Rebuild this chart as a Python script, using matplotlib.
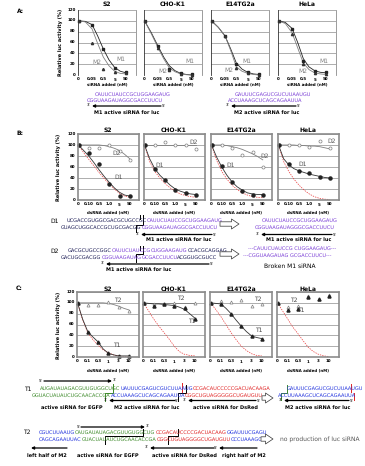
import matplotlib.pyplot as plt

plt.rcParams['text.hinting'] = 'no_hinting'
plt.rcParams['text.hinting_factor'] = 1

# figure size in pixels
W, H = 365, 466

cells = ['S2', 'CHO-K1', 'E14TG2a', 'HeLa']
yticks = [0, 20, 40, 60, 80, 100, 120]

# panel A: siRNA dose response (M1 / M2)
sirna_ticks = ['0', '0.05', '0.5', '5', '50']
sirna_pos = [0, 1.2, 2.2, 3.2, 4.2]
a_curve_pos = [0, 0.6, 1.2, 1.7, 2.2, 2.7, 3.2, 3.7, 4.2]
a_m1_pts = [[100, 92, 48, 13, 5], [100, 53, 12, 3, 1], [100, 72, 20, 5, 1], [100, 85, 25, 7, 5]]
a_m2_pts = [[100, 60, 12, 5, 3], [100, 50, 10, 2, 0], [100, 72, 13, 3, 0], [100, 75, 21, 4, 1]]
a_m1_curve = [[100, 99, 93, 72, 48, 28, 14, 7, 4],
              [100, 78, 53, 33, 17, 8, 3, 1, 0],
              [100, 88, 72, 48, 22, 11, 5, 2, 1],
              [100, 97, 86, 60, 30, 15, 8, 5, 4]]
a_m2_curve = [[100, 98, 85, 58, 33, 17, 7, 3, 2],
              [100, 76, 50, 30, 13, 6, 2, 0.5, 0],
              [100, 88, 72, 45, 15, 7, 3, 1, 0],
              [100, 95, 78, 50, 22, 10, 4, 2, 1]]
a_m1_lab = [(3.4, 28), (3.6, 25), (2.7, 25), (3.6, 25)]
a_m2_lab = [(2.0, 24), (2.0, 6), (1.9, 8), (2.6, 7)]

# panel B: dsRNA D1 / D2
b_ticks = ['0', '0.10', '0.5', '1.0', '5', '50']
c_ticks = ['0', '0.1', '0.3', '1', '3', '10']
pts_pos = [0, 1, 2, 3, 4, 5]
curve_pos = [0, 0.5, 1, 1.5, 2, 2.5, 3, 3.5, 4, 4.5, 5]
b_d1_pts = [[100, 86, 66, 30, 8, 8], [100, 57, 36, 19, 12, 10],
            [100, 62, 32, 17, 10, 10], [100, 65, 53, 49, 42, 40]]
b_d2_pts = [[100, 95, 95, 100, 90, 72], [100, 100, 105, 100, 100, 93],
            [100, 100, 95, 82, 87, 60], [100, 100, 100, 97, 107, 95]]
b_d1_curve = [[100, 90, 80, 68, 55, 43, 32, 22, 14, 9, 7],
              [100, 75, 57, 45, 36, 27, 20, 16, 13, 11, 10],
              [100, 78, 60, 45, 33, 24, 18, 13, 11, 10, 10],
              [100, 75, 64, 57, 53, 50, 47, 45, 43, 41, 40]]
b_d2_curve = [[100, 100, 100, 100, 100, 99, 97, 94, 90, 83, 75],
              [100, 100, 100, 100, 100, 100, 100, 100, 100, 100, 100],
              [100, 100, 100, 99, 97, 95, 92, 88, 84, 79, 73],
              [100, 100, 100, 100, 99, 99, 98, 98, 97, 95, 93]]
b_red = [[100, 86, 74, 62, 50, 39, 29, 20, 12, 7, 5],
         [100, 70, 52, 40, 30, 22, 16, 11, 8, 6, 5],
         [100, 72, 52, 38, 27, 19, 13, 9, 6, 5, 4],
         [100, 70, 52, 38, 27, 18, 11, 6, 3, 1.5, 1]]
b_d1_lab = [(3.5, 42), (1.1, 63), (1.5, 63), (1.9, 65)]
b_d2_lab = [(3.3, 85), (4.4, 105), (4.8, 80), (4.8, 106)]

# panel C: dsRNA T1 / T2
c_t1_pts = [[100, 47, 28, 7, 2, 2], [100, 95, 97, 95, 90, 70],
            [100, 98, 80, 57, 39, 34], [100, 87, 88, 110, 107, 113]]
c_t2_pts = [[100, 96, 96, 102, 92, 85], [100, 97, 97, 100, 92, 100],
            [100, 103, 102, 105, 95, 98], [100, 92, 95, 113, 108, 115]]
c_t1_curve = [[100, 70, 47, 37, 28, 15, 7, 4, 2, 2, 2],
              [100, 99, 98, 98, 97, 96, 95, 92, 88, 80, 72],
              [100, 99, 98, 90, 80, 68, 57, 47, 39, 36, 34],
              None]
c_t2_curve = [[100, 100, 100, 100, 100, 100, 99, 97, 94, 90, 87],
              [100, 100, 100, 100, 100, 100, 100, 100, 100, 100, 100],
              None, None]
c_red = [[100, 68, 45, 32, 22, 13, 8, 4, 2, 1, 1],
         [100, 85, 70, 57, 45, 33, 20, 10, 5, 3, 2],
         [100, 88, 75, 60, 45, 32, 20, 12, 6, 3, 2],
         [100, 85, 70, 55, 43, 30, 18, 10, 5, 2, 1]]
c_t1_lab = [(3.5, 22), (4.3, 65), (4.3, 50), (1.9, 87)]
c_t2_lab = [(3.6, 104), (3.3, 108), (4.2, 106), (1.2, 104)]

fig = plt.figure(figsize=(W / 100, H / 100), dpi=100)
renderer = fig.canvas.get_renderer()

# overlay in pixel coordinates for labels, sequences and arrows
ov = fig.add_axes([0, 0, 1, 1], zorder=5)
ov.set_xlim(0, W)
ov.set_ylim(H, 0)
ov.axis('off')
ov.patch.set_alpha(0)


def text_width(s, size, weight='normal'):
    t = fig.text(0, 0, s, fontsize=size, fontweight=weight)
    w = t.get_window_extent(renderer).width
    t.remove()
    return w


def fit_size(s, width, weight='normal'):
    return 10 * width / text_width(s, 10, weight)


SEQ_FS = fit_size('CAUUCUAUCCGCUGGAAGAUG', 73)
LAB_FS = fit_size('M1 active siRNA for luc', 70, 'bold')
XL_FS = fit_size('dsRNA added (nM)', 46, 'bold')
TITLE_FS = fit_size('CHO-K1', 27, 'bold')
YL_FS = fit_size('Relative luc activity (%)', 62, 'bold')
CURVE_FS = fit_size('M1', 9)


def make_ax(left, top, width, height, framed):
    ax = fig.add_axes([left / W, 1 - (top + height) / H, width / W, height / H])
    ax.set_ylim(0, 120)
    ax.set_yticks(yticks)
    ax.grid(axis='y', color='#a0a0a0', linewidth=0.6)
    ax.set_axisbelow(True)
    ax.tick_params(length=0, labelsize=2.7, pad=1.8)
    for s in ax.spines.values():
        s.set_color('#8c8c8c')
        s.set_linewidth(1.2 if framed else 0.6)
    if not framed:
        ax.spines['top'].set_visible(False)
        ax.spines['bottom'].set_visible(False)
        ax.spines['left'].set_color('#333333')
    return ax


def bold_ticks(ax):
    for lab in ax.get_xticklabels() + ax.get_yticklabels():
        lab.set_fontweight('bold')


def seq_row(x, y, segments, size=None):
    size = size or SEQ_FS
    for s, color in segments:
        ov.text(x, y, s, color=color, fontsize=size, ha='left', va='center')
        x += text_width(s, size)


def arrow(x0, x1, y, lw=0.9):
    ov.annotate('', xy=(x1, y), xytext=(x0, y),
                arrowprops=dict(arrowstyle='-|>', color='black', lw=lw,
                                mutation_scale=4, shrinkA=0, shrinkB=0))


def dbl_arrow(x0, x1, y):
    # hollow block arrow
    ov.annotate('', xy=(x1, y), xytext=(x0, y),
                arrowprops=dict(arrowstyle='simple,head_width=0.8,head_length=0.6,tail_width=0.35',
                                fc='white', ec='#333333', lw=0.5, mutation_scale=9,
                                shrinkA=0, shrinkB=0))


def label(x, y, s, size=None, weight='bold', color='black', ha='center', width=None):
    if width is not None:
        size = fit_size(s, width, weight)
    ov.text(x, y, s, fontsize=size or LAB_FS, fontweight=weight, color=color, ha=ha, va='center')


def prime(x, y, s):
    ov.text(x, y, s, fontsize=2.6, ha='center', va='center')


def step(points, color='black', lw=0.7):
    ov.plot([p[0] for p in points], [p[1] for p in points], color=color, lw=lw)


lefts = [78, 144, 211, 278]

# ---------- panel A ----------
for i in range(4):
    ax = make_ax(lefts[i], 10, 58, 65, framed=False)
    ax.set_xlim(-0.05, 5.1)
    ax.set_xticks(sirna_pos)
    ax.set_xticklabels(sirna_ticks)
    ax.plot(a_curve_pos, a_m1_curve[i], color='#222222', lw=0.6, clip_on=False)
    ax.plot(a_curve_pos, a_m2_curve[i], color='#808080', lw=0.6, clip_on=False)
    ax.plot(sirna_pos, a_m1_pts[i], 's', color='#222222', ms=1.6, clip_on=False)
    ax.plot(sirna_pos, a_m2_pts[i], '^', color='#333333', ms=1.6, clip_on=False)
    ax.text(*a_m1_lab[i], 'M1', fontsize=CURVE_FS, color='#808080', ha='left', va='center')
    ax.text(*a_m2_lab[i], 'M2', fontsize=CURVE_FS, color='#808080', ha='right', va='center')
    if i > 0:
        ax.set_yticklabels([])
    bold_ticks(ax)
    label(lefts[i] + 29, 4, cells[i], size=TITLE_FS)
    label(lefts[i] + 29, 84, 'siRNA added (nM)', size=XL_FS)

label(20, 11, 'A:', size=TITLE_FS)
ov.text(61, 42, 'Relative luc activity (%)', fontsize=YL_FS, fontweight='bold',
        rotation=90, ha='center', va='center')

purple = '#7b3fd6'
seq_row(95, 95, [('CAUUCUAUCCGCUGGAAGAUG', purple)])
seq_row(87, 100.5, [('CGGUAAGAUAGGCGACCUUCU', purple)])
arrow(161, 92, 106)
prime(89, 106, "3'")
prime(164, 106, "5'")
label(127, 112.5, 'M1 active siRNA for luc')

seq_row(235, 95, [('GAUUUCGAGUCGUCUUAAUGU', purple)])
seq_row(228, 100.5, [('ACCUAAAGCUCAGCAGAAUUA', purple)])
arrow(296, 231, 106)
prime(228, 106, "3'")
prime(299, 106, "5'")
label(267, 112.5, 'M2 active siRNA for luc')

# ---------- panel B ----------
red = '#e83a3a'
for i in range(4):
    ax = make_ax(lefts[i], 134, 61, 66, framed=True)
    ax.set_xlim(-0.05, 5.9)
    ax.set_xticks(pts_pos)
    ax.set_xticklabels(b_ticks)
    ax.plot(curve_pos, b_red[i], color=red, lw=0.5, ls=(0, (2, 1.5)))
    ax.plot(curve_pos, b_d2_curve[i], color='#808080', lw=0.6)
    ax.plot(curve_pos, b_d1_curve[i], color='#333333', lw=0.6)
    ax.plot(pts_pos, b_d2_pts[i], 'o', mfc='white', mec='#808080', mew=0.5, ms=2.2, clip_on=False)
    ax.plot(pts_pos, b_d1_pts[i], 'o', color='#222222', ms=2.2, clip_on=False)
    ax.text(*b_d1_lab[i], 'D1', fontsize=CURVE_FS, color='#555555', ha='left', va='center')
    ax.text(*b_d2_lab[i], 'D2', fontsize=CURVE_FS, color='#555555', ha='left', va='center')
    if i > 0:
        ax.set_yticklabels([])
    bold_ticks(ax)
    label(lefts[i] + 30, 130, cells[i], size=TITLE_FS)
    label(lefts[i] + 30, 212.5, 'dsRNA added (nM)', size=XL_FS)

label(20, 133, 'B:', size=TITLE_FS)
ov.text(59, 167, 'Relative luc activity (%)', fontsize=YL_FS, fontweight='bold',
        rotation=90, ha='center', va='center')

navy = '#1c1c55'
label(55, 221, 'D1', size=CURVE_FS, weight='normal')
seq_row(67, 221, [('UCGACCGUGGCGACGCUGCCGC', navy), ('CAUUCUAUCCGCUGGAAGAUG', purple)])
seq_row(61, 228, [('GUAGCUGGCACCGCUGCGACGG', navy), ('CGGUAAGAUAGGCGACCUUCU', purple)])
step([(143, 215), (143, 224.5), (136, 224.5), (136, 232)])
step([(140, 215), (140, 219)])
arrow(212, 141, 234.5)
prime(138, 234.5, "3'")
prime(215, 234.5, "5'")
label(179, 240, 'M1 active siRNA for luc')
dbl_arrow(220, 239, 224)
seq_row(262, 221, [('CAUUCUAUCCGCUGGAAGAUG', purple)])
seq_row(255, 228, [('CGGUAAGAUAGGGCGACCUUCU', purple)])
arrow(332, 261, 234.5)
prime(258, 234.5, "3'")
prime(335, 234.5, "5'")
label(299, 240, 'M1 active siRNA for luc')

label(55, 251, 'D2', size=CURVE_FS, weight='normal')
seq_row(68, 251, [('GACGCUGCCGGC', navy), ('CAUUCUAUCCG', purple),
                  ('CUGGAAGAUG', purple), ('CCACGCAGGAG', navy)])
seq_row(61, 258, [('GACUGCGACGG', navy), ('CGGUAAGAUAG', purple),
                  ('GCGACCUUCU', purple), ('ACGGUGCGUCC', navy)])
step([(143, 246), (143, 254), (136, 254), (136, 262)])
step([(140, 246), (140, 250)])
arrow(209, 106, 264)
prime(103, 264, "3'")
prime(212, 264, "5'")
label(139, 269.5, 'M1 active siRNA for luc')
dbl_arrow(220, 239, 254)
seq_row(248, 249, [('---CAUUCUAUCCG CUGGAAGAUG---', purple)])
seq_row(243, 256, [('---CGGUAAGAUAG GCGACCUUCU---', purple)])
label(290, 266, 'Broken M1 siRNA', weight='normal', width=50)

# ---------- panel C ----------
for i in range(4):
    ax = make_ax(lefts[i] - 1, 292, 62, 65, framed=True)
    ax.set_xlim(-0.05, 6.0)
    ax.set_xticks(pts_pos)
    ax.set_xticklabels(c_ticks)
    ax.plot(curve_pos, c_red[i], color=red, lw=0.5, ls=(0, (2, 1.5)))
    if c_t2_curve[i] is not None:
        ax.plot(curve_pos, c_t2_curve[i], color='#808080', lw=0.6)
    if c_t1_curve[i] is not None:
        ax.plot(curve_pos, c_t1_curve[i], color='#333333', lw=0.6)
    ax.plot(pts_pos, c_t2_pts[i], '^', mfc='white', mec='#808080', mew=0.5, ms=2.2, clip_on=False)
    ax.plot(pts_pos, c_t1_pts[i], '^', color='#222222', ms=2.2, clip_on=False)
    ax.text(*c_t1_lab[i], 'T1', fontsize=CURVE_FS, color='#444444', ha='left', va='center')
    ax.text(*c_t2_lab[i], 'T2', fontsize=CURVE_FS, color='#444444', ha='left', va='center')
    if i > 0:
        ax.set_yticklabels([])
    bold_ticks(ax)
    label(lefts[i] + 30, 289, cells[i], size=TITLE_FS)
    label(lefts[i] + 30, 370, 'dsRNA added (nM)', size=XL_FS)

label(19, 288, 'C:', size=TITLE_FS)
ov.text(59, 325, 'Relative luc activity (%)', fontsize=YL_FS, fontweight='bold',
        rotation=90, ha='center', va='center')

green = '#3d8a2a'
blue = '#2233dd'
redt = '#e02424'
arrow(44, 112, 381)
prime(41, 381, "5'")
prime(115, 381, "3'")
label(28, 389, 'T1', size=CURVE_FS, weight='normal')
seq_row(40, 389, [('AUGAUAUAGACGUUGUGGCUGC', green), ('UAUUUCGAGUCGUCUUAAUG', blue),
                  ('CCGACAUCCCCCGACUACAAGA', redt)])
seq_row(32, 396, [('GGUACUAUAUCUGCAACACCGA', green), ('ACCUAAAGCUCAGCAGAAUUA', blue),
                  ('CGGCUGUAGGGGGCUGAUGUU', redt)])
step([(113, 384), (113, 393), (105, 393), (105, 401)], color=green)
step([(182, 383), (182, 392)], color=redt)
step([(186, 385), (186, 393), (178, 393), (178, 401)])
dbl_arrow(262, 273, 398)
seq_row(287, 389, [('GAUUUCGAGUCGUCUUAAUGU', blue)])
seq_row(278, 396, [('ACCUUAAAGCUCAGCAGAAUUA', blue)])
step([(287, 385), (287, 393), (281, 393), (281, 400)], color=green)
step([(351, 384), (351, 392)], color=redt)
step([(354, 393), (354, 400)], color=redt)
arrow(175, 109, 400.5)
prime(106, 400.5, "3'")
prime(177, 400.5, "5'")
arrow(256, 188, 400.5)
prime(185, 400.5, "3'")
prime(259, 400.5, "5'")
arrow(349, 284, 400.5)
prime(281, 400.5, "3'")
prime(352, 400.5, "5'")
label(72, 408, 'active siRNA for EGFP')
label(147, 408, 'M2 active siRNA for luc')
label(225, 408, 'active siRNA for DsRed')
label(318, 408, 'M2 active siRNA for luc')

arrow(81, 145, 427)
prime(79, 427, "5'")
prime(148, 427, "3'")
label(27, 432, 'T2', size=CURVE_FS, weight='normal')
seq_row(39, 433, [('CGUCUUAAUG', blue), ('CAUGAUAUAGACGUUGUGGCUG', green),
                  ('CCGACAUCCCCGACUACAAG', redt), ('GGAUUUCGAGU', blue)])
seq_row(39, 440, [('CAGCAGAAUUAC', blue), ('GUACUAUAUCUGCAACACCGA', green),
                  ('CGGCUGUAGGGGCUGAUGUU', redt), ('CCCUAAAGCU', blue)])
step([(143, 429), (143, 436), (105, 436), (105, 444)])
step([(178, 429), (178, 436), (168, 436), (168, 444)])
dbl_arrow(261, 273, 439)
label(280, 439, 'no production of luc siRNA', weight='normal', color='#555555', ha='left', width=77)
arrow(67, 31, 448)
arrow(214, 150, 448)
prime(147, 448, "3'")
prime(216, 448, "5'")
arrow(257, 219, 448)
label(47, 456, 'left half of M2')
label(108, 456, 'active siRNA for EGFP')
label(184, 456, 'active siRNA for DsRed')
label(244, 456, 'right half of M2')

plt.savefig('out.png', dpi=100)
